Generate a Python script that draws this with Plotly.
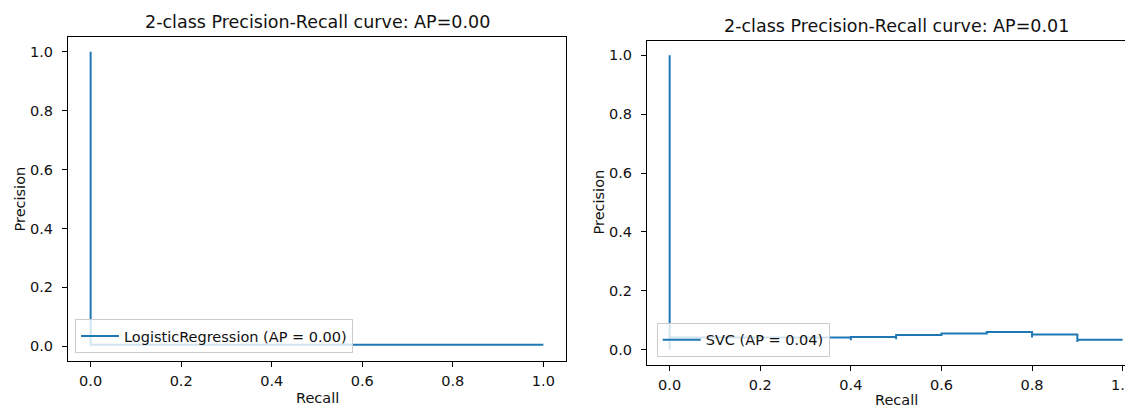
import plotly.graph_objects as go

# ---- data ----
lr_recall = [1.0, 0.0]
lr_precision = [0.005, 1.0]
lr_name = "LogisticRegression (AP = 0.00)"

svc_recall = [1.0, 0.9, 0.9, 0.8, 0.8, 0.7, 0.6, 0.5, 0.5, 0.4, 0.4, 0.0, 0.0]
svc_precision = [0.034, 0.026, 0.052, 0.042, 0.060, 0.055, 0.050, 0.036, 0.043, 0.032, 0.042, 0.0, 1.0]
svc_name = "SVC (AP = 0.04)"

titles = ["2-class Precision-Recall curve: AP=0.00", "2-class Precision-Recall curve: AP=0.01"]
tick_vals = [0.0, 0.2, 0.4, 0.6, 0.8, 1.0]
tick_text = ["0.0", "0.2", "0.4", "0.6", "0.8", "1.0"]

OFF = 8  # default page body margin
W, H = 1133 - OFF, 408 - OFF
FONT = "DejaVu Sans"
BLUE = "#1f77b4"
TXT = "#111111"

def px(x):
    return (x - OFF) / W

def py(y):
    return 1 - (y - OFF) / H

fig = go.Figure()
fig.add_trace(go.Scatter(x=lr_recall, y=lr_precision, mode="lines", line_shape="hv",
                         line=dict(color=BLUE, width=2), name=lr_name,
                         xaxis="x", yaxis="y", legend="legend"))
fig.add_trace(go.Scatter(x=svc_recall, y=svc_precision, mode="lines", line_shape="hv",
                         line=dict(color=BLUE, width=2), name=svc_name,
                         xaxis="x2", yaxis="y2", legend="legend2"))

axis_common = dict(
    tickvals=tick_vals, ticktext=tick_text, ticks="outside", ticklen=5, tickwidth=1,
    tickcolor="black", showline=True, linecolor="black", linewidth=1,
    showgrid=False, zeroline=False, automargin=False,
    tickfont=dict(family=FONT, size=14.5, color=TXT), fixedrange=True,
)
x_extra = dict(ticklabelstandoff=2, ticklabeloverflow="allow")
y_extra = dict(ticklabelstandoff=6)

legend_common = dict(
    bgcolor="rgba(255,255,255,0.8)", bordercolor="#cccccc", borderwidth=1,
    font=dict(family=FONT, size=14.5, color=TXT), xanchor="left", yanchor="bottom",
    itemwidth=38,
)

fig.update_layout(
    width=W, height=H, margin=dict(l=0, r=0, t=0, b=0),
    template="none", paper_bgcolor="white", plot_bgcolor="white",
    font=dict(family=FONT, color=TXT),
    showlegend=True,
    xaxis=dict(domain=[px(68), px(566)], range=[-0.05, 1.05], anchor="y", mirror=True, **axis_common, **x_extra),
    yaxis=dict(domain=[py(361), py(37)], range=[-0.05, 1.05], anchor="x", mirror=True, **axis_common, **y_extra),
    xaxis2=dict(domain=[px(647), 1.0], range=[-0.05, (1133 - 647) / 453 - 0.05], anchor="y2", mirror=True, **axis_common, **x_extra),
    yaxis2=dict(domain=[py(364.5), py(40.5)], range=[-0.05, 1.05], anchor="x2", mirror=False, **axis_common, **y_extra),
    legend=dict(x=px(75), y=py(353), **legend_common),
    legend2=dict(x=px(656.7), y=py(356.7), **legend_common),
)

ann = [
    dict(text=titles[0], x=px(317), y=py(22), size=17.5, angle=0),
    dict(text=titles[1], x=px(896.5), y=py(26), size=17.5, angle=0),
    dict(text="Recall", x=px(317), y=py(398), size=14.5, angle=0),
    dict(text="Recall", x=px(896.5), y=py(400), size=14.5, angle=0),
    dict(text="Precision", x=px(19.5), y=py(199), size=14.5, angle=-90),
    dict(text="Precision", x=px(598), y=py(202.5), size=14.5, angle=-90),
]
for a in ann:
    fig.add_annotation(text=a["text"], x=a["x"], y=a["y"], xref="paper", yref="paper",
                       xanchor="center", yanchor="middle", showarrow=False,
                       textangle=a["angle"], font=dict(family=FONT, size=a["size"], color=TXT))

fig.write_html("out.html", config={"displayModeBar": False})
